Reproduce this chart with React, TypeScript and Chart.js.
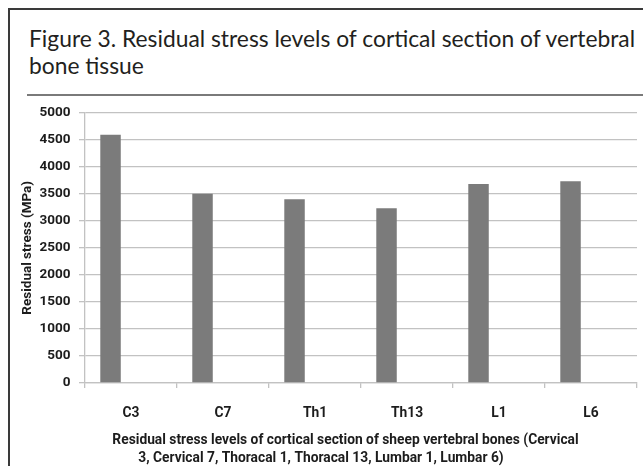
import React, { useEffect, useRef } from "react";
import { Chart, registerables } from "chart.js";

Chart.register(...registerables);

const categories: string[] = ["C3", "C7", "Th1", "Th13", "L1", "L6"];
const residualStress: number[] = [4590, 3500, 3400, 3230, 3680, 3730];
// Excel-style empty second series (keeps the bars left of the category centre)
const emptySeries: (number | null)[] = [null, null, null, null, null, null];
const yMin = 0;
const yMax = 5000;
const yStep = 500;

const figureTitle: string[] = [
  "Figure 3. Residual stress levels of cortical section of vertebral",
  "bone tissue",
];
const yTitle = "Residual stress (MPa)";
const xTitleLines: string[] = [
  "Residual stress levels of cortical section of sheep vertebral bones (Cervical",
  "3, Cervical 7, Thoracal 1, Thoracal 13, Lumbar 1, Lumbar 6)",
];

const TITLE_FONT = "Lato, 'Open Sans', sans-serif";
const FONT = "Roboto, 'Liberation Sans', sans-serif";
const TEXT = "#1c1c1c";
const GRID = "#c2c2c2";

const xTitlePlugin = {
  id: "xTitleLines",
  afterDraw(chart: any) {
    const { ctx, chartArea } = chart;
    ctx.save();
    ctx.font = `bold 13.8px ${FONT}`;
    ctx.fillStyle = TEXT;
    ctx.textAlign = "center";
    ctx.textBaseline = "middle";
    ctx.fillText(xTitleLines[0], chartArea.left + 260.5, chartArea.bottom + 58);
    ctx.fillText(xTitleLines[1], chartArea.left + 236, chartArea.bottom + 76);
    ctx.restore();
  },
};

function BarChart() {
  const ref = useRef<HTMLCanvasElement | null>(null);
  useEffect(() => {
    if (!ref.current) return;
    const chart = new Chart(ref.current, {
      type: "bar",
      data: {
        labels: categories,
        datasets: [
          {
            label: "Residual stress",
            data: residualStress,
            backgroundColor: "#7b7b7b",
            borderWidth: 0,
            categoryPercentage: 0.89,
            barPercentage: 0.5,
          },
          {
            label: "Series 2",
            data: emptySeries,
            backgroundColor: "#7b7b7b",
            categoryPercentage: 0.89,
            barPercentage: 0.5,
          },
        ],
      },
      options: {
        responsive: false,
        animation: false,
        layout: { padding: { top: 11.5, right: 6, left: 0, bottom: 0 } },
        plugins: {
          legend: { display: false },
          tooltip: { enabled: false },
        },
        scales: {
          x: {
            offset: true,
            grid: {
              display: true,
              drawOnChartArea: false,
              offset: true,
              color: GRID,
              lineWidth: 1.3,
              tickLength: 5,
            },
            border: { display: true, color: GRID, width: 1.3 },
            ticks: {
              color: TEXT,
              font: { family: FONT, size: 13.8, weight: "bold" },
              padding: 17,
            },
            afterFit(scale: any) {
              scale.height = 83;
            },
          },
          y: {
            min: yMin,
            max: yMax,
            ticks: {
              stepSize: yStep,
              format: { useGrouping: false },
              color: TEXT,
              font: { family: FONT, size: 13.5, weight: "bold" },
              padding: 8.5,
            },
            grid: {
              color: GRID,
              lineWidth: 1.3,
              tickLength: 6,
            },
            border: { display: true, color: GRID, width: 1.3 },
            title: {
              display: true,
              text: yTitle,
              color: TEXT,
              font: { family: FONT, size: 13.5, weight: "bold" },
              padding: { top: 9.5, bottom: 0 },
            },
            afterFit(scale: any) {
              scale.width = 75;
            },
          },
        },
      },
      plugins: [xTitlePlugin],
    });
    return () => chart.destroy();
  }, []);
  return (
    <canvas
      ref={ref}
      width={633}
      height={370}
      style={{ position: "absolute", left: 10, top: 96, width: 633, height: 370, display: "block" }}
    />
  );
}

export default function App() {
  return (
    <div
      style={{
        position: "fixed",
        left: 0,
        top: 0,
        width: 643,
        height: 466,
        overflow: "hidden",
        background: "#ffffff",
      }}
    >
      <div
        style={{
          position: "absolute",
          left: 8,
          top: 8,
          width: 700,
          height: 520,
          borderTop: "2px solid #3a3a3a",
          borderLeft: "2px solid #3a3a3a",
        }}
      />
      <div
        style={{
          position: "absolute",
          left: 29,
          top: 25,
          fontFamily: TITLE_FONT,
          fontSize: 22.8,
          lineHeight: "27px",
          color: "#231f20",
          whiteSpace: "nowrap",
        }}
      >
        {figureTitle.map((t, i) => (
          <div key={i}>{t}</div>
        ))}
      </div>
      <div
        style={{
          position: "absolute",
          left: 27,
          top: 94,
          width: 620,
          height: 2,
          background: "#7a7a7a",
        }}
      />
      <BarChart />
    </div>
  );
}
